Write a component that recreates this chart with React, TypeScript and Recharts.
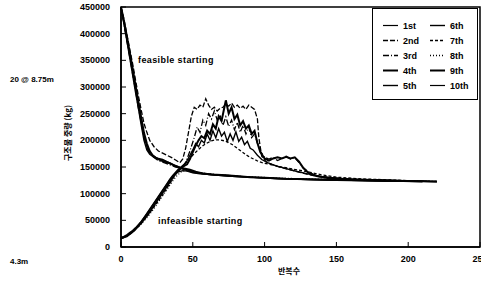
import { LineChart, Line, XAxis, YAxis, ReferenceArea, Legend } from 'recharts';

// iteration vs structure weight (values in 1000 kg)
const X_TICKS = [0, 50, 100, 150, 200, 250];
const Y_TICKS = [0, 50000, 100000, 150000, 200000, 250000, 300000, 350000, 400000, 450000];

const RUN_1 = [[0,450],[2,422],[4,392],[6,362],[8,332],[10,300],[12,268],[14,238],[16,208],[18,188],[20,178],[23,170],[26,165],[30,160],[34,156],[38,152],[42,147],[46,143],[50,140],[55,138],[60,136],[70,134],[80,132],[90,131],[100,129],[110,128],[120,127],[135,126],[150,125],[170,124],[190,123],[210,123],[220,122]];
const RUN_2 = [[0,450],[2,428],[4,400],[6,372],[8,345],[10,315],[12,285],[14,258],[16,232],[18,215],[20,200],[23,188],[26,180],[29,176],[32,172],[35,168],[38,163],[41,158],[43,165],[45,185],[47,215],[49,245],[51,262],[53,258],[55,266],[57,262],[59,278],[61,266],[63,258],[65,262],[67,255],[69,260],[71,262],[73,268],[75,264],[77,270],[79,262],[81,266],[83,260],[85,264],[87,258],[89,266],[91,262],[93,258],[95,240],[96,205],[98,170],[101,160],[105,155],[110,150],[120,143],[130,136],[140,131],[160,127],[180,125],[200,123]];
const RUN_3 = [[0,450],[2,418],[4,388],[6,358],[8,326],[10,296],[12,262],[14,234],[16,206],[18,186],[20,176],[23,168],[26,162],[30,158],[34,154],[38,150],[42,148],[45,158],[48,180],[51,205],[53,225],[55,215],[57,238],[59,228],[61,250],[63,240],[65,255],[67,238],[69,248],[71,228],[73,244],[75,226],[77,238],[79,220],[81,234],[83,215],[85,228],[87,212],[89,225],[91,205],[93,212],[95,195],[97,180],[100,168],[103,165],[106,168],[109,162],[112,166],[115,170],[118,165],[121,168],[124,158],[127,148],[131,140],[136,134],[145,130],[160,127],[190,124],[215,123]];
const RUN_4 = [[0,17],[2,18],[4,20],[6,24],[8,28],[10,33],[12,39],[14,45],[16,52],[18,59],[20,66],[22,74],[24,82],[26,90],[28,98],[30,106],[32,114],[34,122],[36,130],[38,137],[40,143],[42,148],[44,152],[46,155],[48,165],[50,178],[52,190],[54,200],[56,208],[58,204],[60,218],[62,212],[64,230],[66,222],[68,245],[70,236],[72,262],[73,275],[75,250],[77,262],[79,240],[81,248],[83,228],[85,236],[87,222],[89,228],[91,212],[93,218],[95,195],[97,178],[100,166],[103,162],[106,166],[109,168],[112,166],[115,169],[118,166],[121,168],[124,160],[127,148],[131,138],[136,133],[145,129],[160,126],[190,124],[220,123]];
const RUN_5 = [[0,16],[2,18],[4,21],[6,25],[8,29],[10,34],[12,40],[14,47],[16,55],[18,63],[20,71],[22,79],[24,87],[26,95],[28,103],[30,111],[32,119],[34,127],[36,134],[38,140],[40,146],[42,150],[44,155],[46,162],[48,172],[50,182],[52,194],[54,188],[56,200],[58,195],[60,212],[62,200],[64,218],[66,205],[68,222],[70,208],[72,215],[74,198],[76,212],[78,200],[80,216],[82,198],[84,206],[86,192],[88,198],[90,185],[92,182],[95,172],[98,164],[102,158],[108,152],[115,147],[122,142],[130,137],[140,132],[155,128],[175,126],[200,124]];
const RUN_6 = [[0,450],[2,420],[4,388],[6,356],[8,324],[10,292],[12,262],[14,230],[16,200],[18,182],[20,174],[23,168],[26,166],[29,164],[32,160],[36,155],[40,150],[44,146],[48,143],[52,140],[58,138],[65,136],[75,134],[85,132],[95,130],[110,128],[125,127],[140,126],[160,125],[180,124],[200,123],[220,123]];
const RUN_7 = [[0,15],[3,19],[6,24],[9,30],[12,38],[15,47],[18,57],[21,68],[24,79],[27,90],[30,102],[33,115],[36,128],[39,140],[42,150],[45,157],[48,166],[51,175],[54,183],[57,190],[60,195],[63,199],[66,201],[69,201],[72,199],[75,196],[78,191],[81,185],[84,179],[87,173],[90,168],[93,164],[96,160],[100,157],[105,154],[110,151],[120,146],[130,141],[140,135],[150,131],[165,128],[185,126],[205,124]];
const RUN_8 = [[0,17],[3,20],[6,25],[9,31],[12,38],[15,46],[18,55],[21,65],[24,76],[27,88],[30,100],[33,112],[36,124],[39,134],[42,141],[45,144],[48,142],[52,140],[58,138],[65,136],[75,134],[85,132],[95,131],[110,129],[125,128],[140,127],[160,126],[180,125],[200,124],[220,123]];
const RUN_9 = [[0,450],[2,425],[4,396],[6,366],[8,336],[10,305],[12,274],[14,244],[16,214],[18,194],[20,180],[22,172],[25,166],[28,162],[31,160],[34,157],[37,153],[40,150],[44,147],[48,145],[52,141],[57,138],[63,136],[70,135],[80,133],[90,131],[100,130],[115,128],[130,127],[150,126],[170,125],[190,124],[210,123]];
const RUN_10 = [[0,18],[2,20],[4,23],[6,27],[8,31],[10,36],[12,42],[14,48],[16,55],[18,62],[20,70],[22,78],[24,86],[26,94],[28,102],[30,110],[32,118],[34,126],[36,133],[38,138],[40,141],[43,143],[46,142],[50,139],[55,137],[60,136],[70,134],[80,132],[90,131],[100,130],[115,128],[130,127],[150,126],[175,125],[200,124],[215,123]];

const SERIES = [
  { name: '1st', run: RUN_1, width: 1.2, dash: undefined },
  { name: '2nd', run: RUN_2, width: 1.3, dash: '5 2' },
  { name: '3rd', run: RUN_3, width: 1.3, dash: '6 2 1 2' },
  { name: '4th', run: RUN_4, width: 2, dash: undefined },
  { name: '5th', run: RUN_5, width: 1.4, dash: undefined },
  { name: '6th', run: RUN_6, width: 1.4, dash: undefined },
  { name: '7th', run: RUN_7, width: 1.3, dash: '3 2' },
  { name: '8th', run: RUN_8, width: 1.3, dash: '1 2' },
  { name: '9th', run: RUN_9, width: 2, dash: undefined },
  { name: '10th', run: RUN_10, width: 1.2, dash: undefined },
];

const FONT = '"Liberation Sans", Arial, sans-serif';
const INK = '#000';

const toPoints = (run: number[][]) => run.map(([x, y]) => ({ x, y: y * 1000 }));

const YTick = (props: any) => {
  const { x, y, payload } = props;
  return (
    <g>
      <line x1={x + 11} x2={x + 16} y1={y} y2={y} stroke={INK} strokeWidth={1} />
      <text x={x} y={y} textAnchor="end" dominantBaseline="central" fontSize={9} fontWeight="bold" fontFamily={FONT} fill={INK}>
        {payload.value}
      </text>
    </g>
  );
};

const XTick = (props: any) => {
  const { x, y, payload } = props;
  return (
    <g>
      <line x1={x} x2={x} y1={y - 8} y2={y - 13} stroke={INK} strokeWidth={1} />
      <text x={x} y={y + 4} textAnchor="middle" dominantBaseline="central" fontSize={9} fontWeight="bold" fontFamily={FONT} fill={INK}>
        {payload.value}
      </text>
    </g>
  );
};

const LegendBox = () => (
  <div style={{ width: 106, height: 92, border: `1px solid ${INK}`, boxSizing: 'border-box', background: '#fff' }}>
    <svg width={104} height={90}>
      {SERIES.map((s, i) => {
        const col = Math.floor(i / 5);
        const row = i % 5;
        const lx = col === 0 ? 10 : 57;
        const ly = 16.5 + row * 15;
        return (
          <g key={s.name}>
            <line x1={lx} x2={lx + 15} y1={ly} y2={ly} stroke={INK} strokeWidth={s.width} strokeDasharray={s.dash} />
            <text x={lx + 20} y={ly} dominantBaseline="central" fontSize={9} fontWeight="bold" fontFamily={FONT} fill={INK}>
              {s.name}
            </text>
          </g>
        );
      })}
    </svg>
  </div>
);

const textStyle = { position: 'absolute' as const, fontFamily: FONT, fontWeight: 'bold' as const, fontSize: 8, color: INK, whiteSpace: 'nowrap' as const, lineHeight: 1 };

export default function App() {
  return (
    <div style={{ position: 'absolute', left: 0, top: 0, width: 481, height: 287, background: '#fff', overflow: 'hidden' }}>
      <LineChart width={481} height={287} margin={{ top: 7, right: 1, bottom: 10, left: 61 }}>
        <XAxis
          type="number"
          dataKey="x"
          domain={[0, 250]}
          ticks={X_TICKS}
          interval={0}
          tickSize={0}
          tickMargin={8}
          height={30}
          axisLine={{ stroke: INK, strokeWidth: 1.5 }}
          tickLine={false}
          tick={<XTick />}
          allowDuplicatedCategory={false}
        />
        <YAxis
          type="number"
          domain={[0, 450000]}
          ticks={Y_TICKS}
          interval={0}
          tickSize={0}
          tickMargin={11}
          width={60}
          axisLine={{ stroke: INK, strokeWidth: 1.5 }}
          tickLine={false}
          tick={<YTick />}
        />
        <ReferenceArea x1={0} x2={250} y1={0} y2={450000} fill="none" stroke={INK} strokeWidth={1.5} />
        {SERIES.map((s) => (
          <Line
            key={s.name}
            name={s.name}
            data={toPoints(s.run)}
            dataKey="y"
            type="linear"
            stroke={INK}
            strokeWidth={s.width}
            strokeDasharray={s.dash}
            dot={false}
            isAnimationActive={false}
          />
        ))}
        <Legend
          layout="horizontal"
          verticalAlign="middle"
          align="center"
          content={() => <LegendBox />}
          wrapperStyle={{ position: 'absolute', left: 372, top: 8, width: 106, height: 92 }}
        />
      </LineChart>
      <div style={{ ...textStyle, left: 138, top: 56, fontSize: 9, letterSpacing: 0.4 }}>feasible starting</div>
      <div style={{ ...textStyle, left: 158, top: 217, fontSize: 9, letterSpacing: 0.4 }}>infeasible starting</div>
      <div style={{ ...textStyle, left: 10, top: 76 }}>20 @ 8.75m</div>
      <div style={{ ...textStyle, left: 10, top: 258 }}>4.3m</div>
      <div style={{ ...textStyle, left: 278, top: 267, fontFamily: '"Noto Sans CJK KR", sans-serif', fontSize: 8 }}>반복수</div>
      <div
        style={{
          ...textStyle,
          left: 68,
          top: 133,
          fontFamily: '"Noto Sans CJK KR", sans-serif',
          fontSize: 8,
          transform: 'translate(-50%, -50%) rotate(-90deg)',
        }}
      >
        구조물 중량 (kg)
      </div>
    </div>
  );
}
